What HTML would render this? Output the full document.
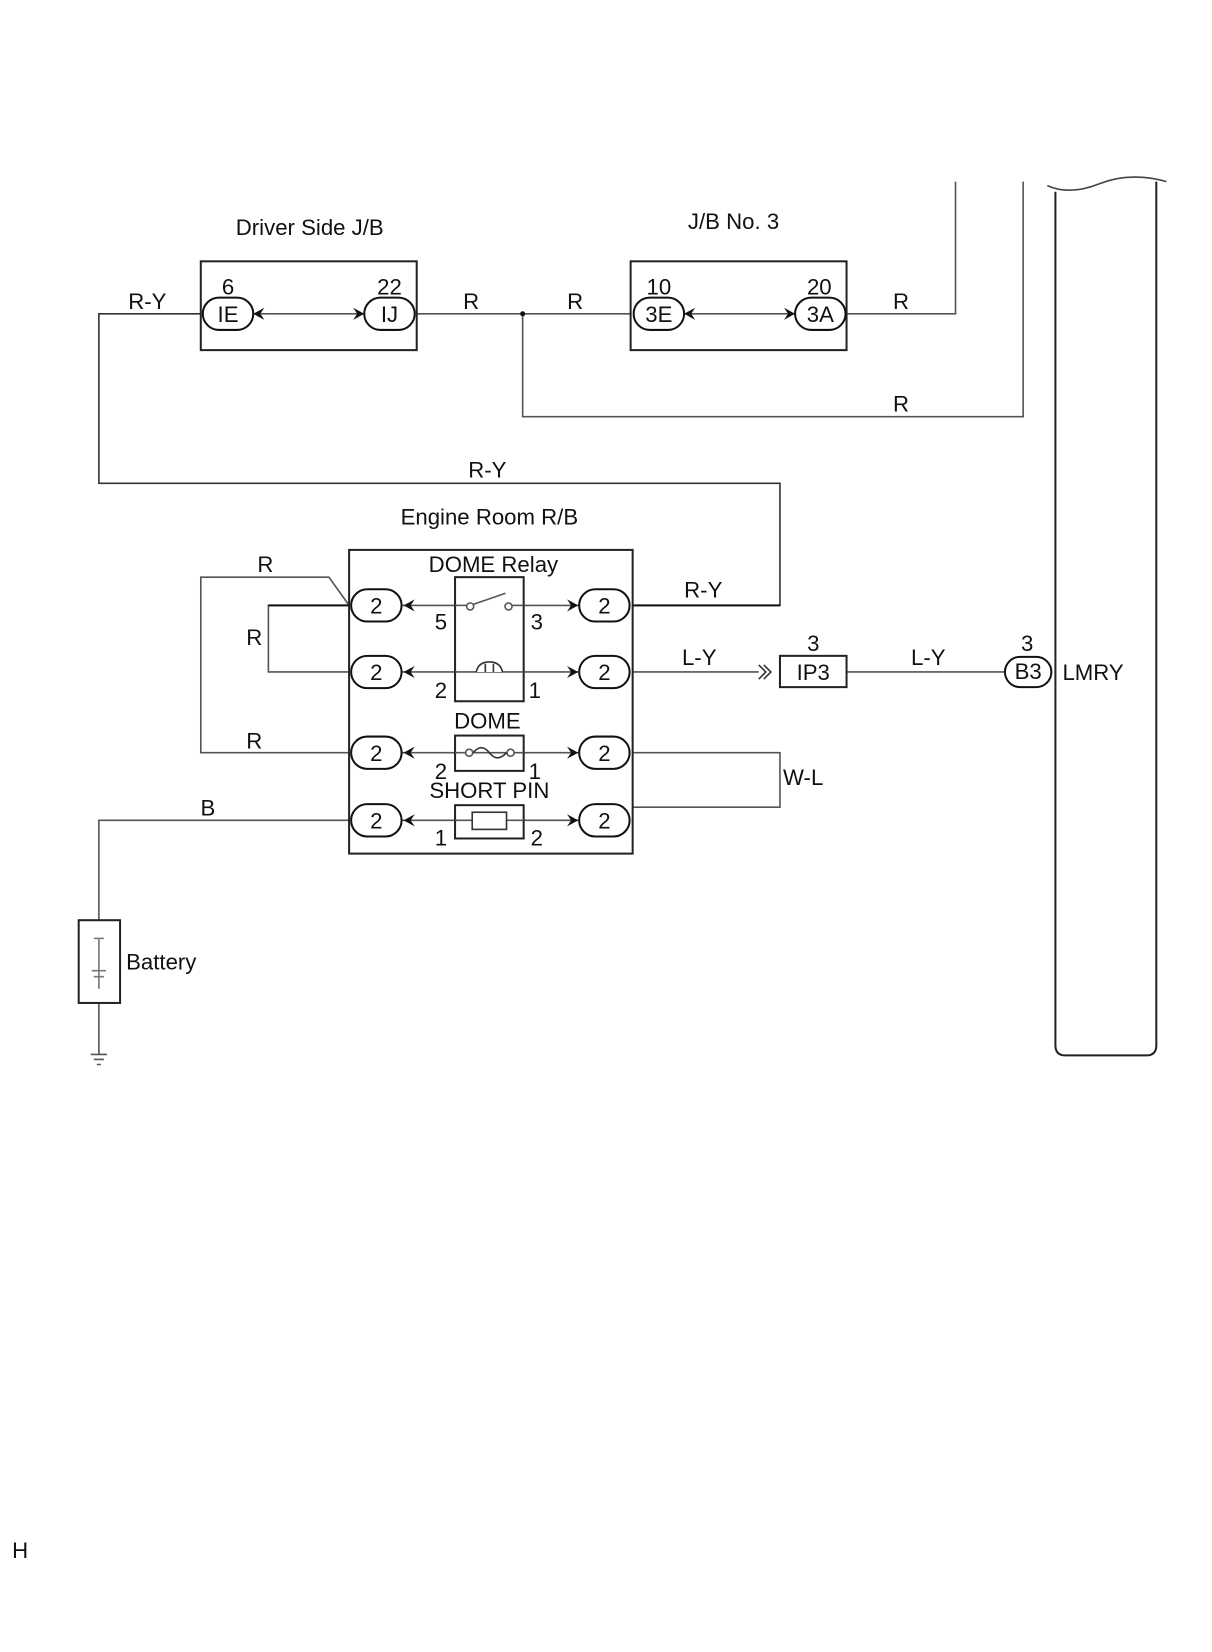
<!DOCTYPE html>
<html><head><meta charset="utf-8"><style>
html,body{margin:0;padding:0;background:#fff;}
svg{display:block}
text{font-family:"Liberation Sans",sans-serif;font-size:22px;fill:#111}
</style></head><body>
<svg width="1212" height="1652" viewBox="0 0 1212 1652" xmlns="http://www.w3.org/2000/svg">
<defs>
<g id="pl"><rect x="-25" y="-16" width="50" height="32" rx="16" fill="#fff" stroke="#111" stroke-width="2"/></g>
<g id="al"><path d="M0,-6 L11,0 L0,6 L4,0 Z" fill="#111"/></g>
</defs>
<g transform="scale(1.009)">
<g fill="none" stroke="#555" stroke-width="1.6">
<polyline points="199,311 98,311 98,479 773,479 773,600 627,600" stroke="#333"/>
<line x1="413" y1="311" x2="625" y2="311"/>
<polyline points="839,311 947,311 947,180"/>
<polyline points="518,311 518,413 1014,413 1014,180"/>
<line x1="245" y1="311" x2="367" y2="311"/>
<line x1="672" y1="311" x2="794" y2="311"/>
<polyline points="346,600 326,572 199,572 199,746 346,746"/>
<polyline points="346,600 266,600 266,666 346,666"/>
<polyline points="346,813 98,813 98,912"/>
<line x1="98" y1="994" x2="98" y2="1045"/>
<polyline points="627,746 773,746 773,800 627,800"/>
<line x1="627" y1="666" x2="752" y2="666"/>
<line x1="839" y1="666" x2="998" y2="666"/>
<line x1="398" y1="600" x2="574" y2="600"/>
<line x1="398" y1="666" x2="574" y2="666"/>
<line x1="398" y1="746" x2="574" y2="746"/>
<line x1="398" y1="813" x2="574" y2="813"/>
</g>
<line x1="266" y1="600" x2="346" y2="600" stroke="#111" stroke-width="2"/>
<line x1="627" y1="600" x2="773" y2="600" stroke="#111" stroke-width="2"/>
<circle cx="518" cy="311" r="2.5" fill="#111"/>
<g fill="none" stroke="#222" stroke-width="2">
<rect x="199" y="259" width="214" height="88"/>
<rect x="625" y="259" width="214" height="88"/>
<rect x="346" y="545" width="281" height="301"/>
<rect x="773" y="650" width="66" height="31" fill="#fff"/>
<rect x="78" y="912" width="41" height="82" fill="#fff"/>
</g>
<g fill="#fff" stroke="#222" stroke-width="2">
<rect x="451" y="572" width="68" height="123"/>
<rect x="451" y="729" width="68" height="35"/>
<rect x="451" y="798" width="68" height="33"/>
</g>
<g stroke="#555" stroke-width="1.6" fill="none">
<line x1="451" y1="600" x2="462" y2="600"/><line x1="508" y1="600" x2="519" y2="600"/>
<circle cx="466" cy="601" r="3.5" fill="#fff"/><circle cx="504" cy="601" r="3.5" fill="#fff"/>
<line x1="469" y1="599" x2="501" y2="588"/>
<line x1="451" y1="666" x2="519" y2="666"/>
<path d="M472,666 Q474,656 485,656 Q496,656 498,666" stroke="#333" fill="#fff"/>
<path d="M481,658 V666 M489,658 V666" stroke="#333"/>
<line x1="451" y1="746" x2="519" y2="746"/>
<circle cx="465" cy="746" r="3.5" fill="#fff"/><circle cx="506" cy="746" r="3.5" fill="#fff"/>
<path d="M469,746 Q477,736 485,746 Q493,756 502,746" stroke="#333"/>
<line x1="451" y1="813" x2="519" y2="813"/>
<rect x="468" y="805" width="34" height="17" fill="#fff" stroke="#333"/>
<path d="M93,930 H103 M98,930 V980 M91,962 H105 M93,968 H103" stroke="#777"/>
<path d="M90,1045 H106 M93,1050 H103 M96,1055 H100" stroke="#555"/>
<path d="M752,659 L759,666 L752,673 M757,659 L764,666 L757,673" stroke="#333"/>
</g>
<path d="M1046,190 V1036 Q1046,1046 1056,1046 H1136 Q1146,1046 1146,1036 V180" fill="none" stroke="#222" stroke-width="2"/>
<path d="M1038,184 Q1060,194 1090,182 Q1120,170 1156,180" fill="none" stroke="#444" stroke-width="1.6"/>
<g transform="translate(226,311)"><use href="#pl"/><use href="#al" transform="translate(36,0) scale(-1,1)"/></g>
<g transform="translate(386,311)"><use href="#pl"/><use href="#al" transform="translate(-36,0)"/></g>
<g transform="translate(653,311)"><use href="#pl"/><use href="#al" transform="translate(36,0) scale(-1,1)"/></g>
<g transform="translate(813,311)"><use href="#pl"/><use href="#al" transform="translate(-36,0)"/></g>
<g transform="translate(1019,666)"><rect x="-23" y="-15" width="46" height="30" rx="15" fill="#fff" stroke="#111" stroke-width="2"/></g>
<g transform="translate(373,600)"><use href="#pl"/><use href="#al" transform="translate(38,0) scale(-1,1)"/></g>
<g transform="translate(373,666)"><use href="#pl"/><use href="#al" transform="translate(38,0) scale(-1,1)"/></g>
<g transform="translate(373,746)"><use href="#pl"/><use href="#al" transform="translate(38,0) scale(-1,1)"/></g>
<g transform="translate(373,813)"><use href="#pl"/><use href="#al" transform="translate(38,0) scale(-1,1)"/></g>
<g transform="translate(599,600)"><use href="#pl"/><use href="#al" transform="translate(-37,0)"/></g>
<g transform="translate(599,666)"><use href="#pl"/><use href="#al" transform="translate(-37,0)"/></g>
<g transform="translate(599,746)"><use href="#pl"/><use href="#al" transform="translate(-37,0)"/></g>
<g transform="translate(599,813)"><use href="#pl"/><use href="#al" transform="translate(-37,0)"/></g>
<g text-anchor="middle">
<text x="307" y="233">Driver Side J/B</text>
<text x="727" y="227">J/B No. 3</text>
<text x="485" y="520">Engine Room R/B</text>
<text x="489" y="567">DOME Relay</text>
<text x="483" y="722">DOME</text>
<text x="485" y="791">SHORT PIN</text>
<text x="226" y="292">6</text><text x="386" y="292">22</text>
<text x="653" y="292">10</text><text x="812" y="292">20</text>
<text x="226" y="319" font-size="20">IE</text><text x="386" y="319" font-size="20">IJ</text>
<text x="653" y="319" font-size="20">3E</text><text x="813" y="319" font-size="20">3A</text>
<text x="373" y="608">2</text><text x="373" y="674">2</text><text x="373" y="754">2</text><text x="373" y="821">2</text>
<text x="599" y="608">2</text><text x="599" y="674">2</text><text x="599" y="754">2</text><text x="599" y="821">2</text>
<text x="806" y="674" font-size="21">IP3</text><text x="1019" y="673" font-size="20">B3</text>
<text x="806" y="645">3</text><text x="1018" y="645">3</text>
<text x="146" y="306">R-Y</text><text x="467" y="306">R</text><text x="570" y="306">R</text><text x="893" y="306">R</text>
<text x="893" y="408">R</text><text x="483" y="473">R-Y</text>
<text x="263" y="567">R</text><text x="252" y="639">R</text><text x="252" y="742">R</text><text x="206" y="808">B</text>
<text x="697" y="592">R-Y</text><text x="693" y="659">L-Y</text><text x="920" y="659">L-Y</text>
<text x="796" y="778">W-L</text>
<text x="437" y="624">5</text><text x="532" y="624">3</text>
<text x="437" y="692">2</text><text x="530" y="692">1</text>
<text x="437" y="772">2</text><text x="530" y="772">1</text>
<text x="437" y="838">1</text><text x="532" y="838">2</text>
</g>
<text x="1053" y="674">LMRY</text>
<text x="125" y="961">Battery</text>
<text x="12" y="1544" font-size="16">H</text>
</g>
</svg>
</body></html>
